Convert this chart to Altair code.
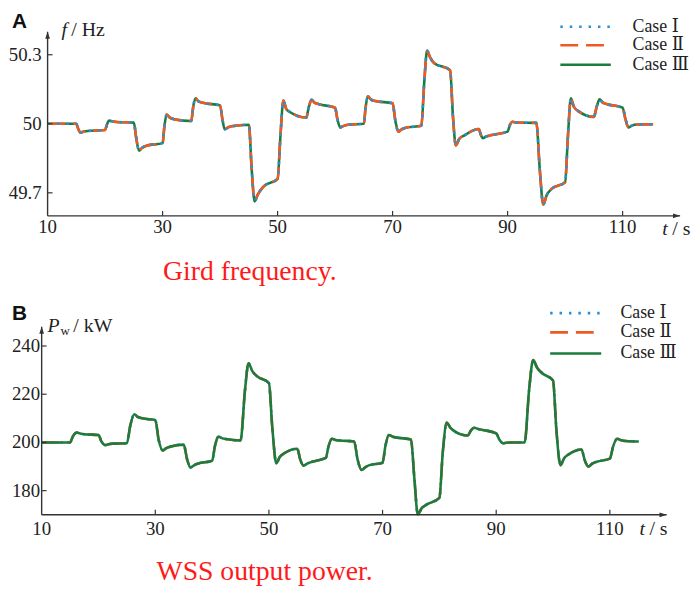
import altair as alt
import pandas as pd

# ---------------- data ----------------
# Panel A: grid frequency (Hz) vs time (s)
tA = [10.0, 15.0, 15.3, 15.7, 16.3, 17.0, 20.0, 20.3, 20.7, 21.2, 22.0, 25.0, 25.4, 25.9, 26.4, 27.2,
      30.0, 30.3, 30.7, 31.2, 32.0, 35.0, 35.3, 35.7, 36.2, 37.0, 40.0, 40.4, 40.8, 41.3, 42.0,
      45.0, 45.5, 46.0, 46.5, 47.5, 50.0, 50.5, 51.0, 51.5, 52.2, 55.0, 55.4, 55.9, 56.4, 57.2,
      60.0, 60.4, 60.9, 61.4, 62.2, 65.0, 65.3, 65.7, 66.2, 67.0, 70.0, 70.5, 71.0, 71.5, 72.3,
      75.0, 75.5, 76.0, 76.5, 77.2, 80.0, 80.5, 81.0, 81.6, 82.5, 85.0, 85.3, 85.7, 86.2, 87.0,
      90.0, 90.4, 90.9, 91.4, 95.0, 95.6, 96.2, 96.8, 97.7, 100.0, 100.5, 101.0, 101.5, 102.3,
      105.0, 105.5, 106.0, 106.5, 107.2, 110.0, 110.5, 111.0, 111.6, 112.4, 115.3]
fA = [50.000, 50.000, 49.980, 49.962, 49.966, 49.969, 49.973, 49.995, 50.014, 50.011, 50.008,
      50.005, 49.940, 49.883, 49.895, 49.905, 49.916, 49.985, 50.040, 50.028, 50.020, 50.012,
      50.070, 50.111, 50.098, 50.091, 50.080, 50.020, 49.976, 49.983, 49.989, 49.996, 49.800,
      49.663, 49.690, 49.726, 49.761, 49.950, 50.101, 50.065, 50.050, 50.027, 50.070, 50.104,
      50.092, 50.085, 50.070, 50.020, 49.984, 49.990, 49.996, 50.000, 50.070, 50.120, 50.106,
      50.099, 50.089, 50.010, 49.966, 49.975, 49.983, 49.991, 50.180, 50.317, 50.290, 50.264,
      50.233, 50.030, 49.906, 49.935, 49.950, 49.977, 49.955, 49.937, 49.944, 49.950, 49.966,
      49.995, 50.009, 50.005, 50.004, 49.800, 49.649, 49.690, 49.718, 49.746, 49.950, 50.111,
      50.075, 50.055, 50.030, 50.075, 50.106, 50.093, 50.086, 50.070, 50.020, 49.984, 49.992,
      49.997, 49.998]

# Panel B: WSS output power (kW) vs time (s)
tB = [10.0, 15.0, 15.5, 16.2, 16.8, 17.5, 20.0, 20.5, 21.2, 21.8, 22.5, 25.0, 25.6, 26.3, 26.9, 27.7,
      30.0, 30.6, 31.3, 31.9, 32.6, 35.0, 35.6, 36.2, 36.8, 37.5, 40.0, 40.5, 41.1, 41.7, 42.4,
      45.0, 45.8, 46.4, 47.1, 48.0, 50.0, 50.6, 51.3, 51.9, 52.7, 55.0, 55.5, 56.1, 56.8, 57.6,
      60.0, 60.5, 61.1, 61.7, 62.5, 65.0, 65.6, 66.3, 67.0, 67.7, 70.0, 70.5, 71.1, 71.8, 72.6,
      75.0, 75.6, 76.2, 76.9, 77.8, 80.0, 80.6, 81.3, 81.9, 82.7, 85.0, 85.5, 86.1, 86.8, 87.6,
      90.0, 90.6, 91.2, 91.8, 92.5, 95.0, 95.8, 96.5, 97.2, 98.1, 100.0, 100.6, 101.3, 102.0, 102.8,
      105.0, 105.6, 106.2, 106.9, 107.7, 110.0, 110.6, 111.3, 112.0, 112.8, 115.1]
pB = [200.0, 200.0, 202.5, 204.1, 203.7, 203.4, 203.1, 200.5, 198.9, 199.3, 199.5, 199.7, 207.0,
      211.7, 210.6, 210.0, 209.3, 201.0, 196.7, 197.6, 198.2, 199.1, 193.0, 189.6, 190.5, 191.2,
      192.4, 198.5, 202.4, 201.8, 201.4, 200.8, 222.0, 232.8, 229.5, 227.3, 224.6, 206.0, 191.3,
      194.0, 195.5, 197.4, 193.0, 190.4, 191.3, 192.0, 193.6, 198.5, 201.5, 201.0, 200.8, 200.4,
      193.0, 188.6, 189.8, 190.6, 191.6, 198.5, 203.1, 202.4, 202.0, 201.2, 185.0, 170.2, 172.8,
      174.3, 177.0, 196.0, 208.3, 206.2, 204.6, 202.9, 204.8, 206.1, 205.6, 205.2, 203.8, 201.0,
      199.7, 199.9, 200.0, 200.0, 222.0, 234.2, 231.0, 228.7, 225.7, 205.0, 190.6, 193.6, 195.1,
      197.1, 192.5, 190.0, 191.2, 192.0, 193.3, 198.5, 201.5, 200.9, 200.6, 200.4]

cases = ["Case \u2160", "Case \u2161", "Case \u2162"]
xA_ticks = [30, 50, 70, 90, 110]
x_labels = [10, 30, 50, 70, 90, 110]
yA_ticks = [49.7, 50.0, 50.3]
yA_labels = ["49.7", "50", "50.3"]
yB_ticks = [180, 200, 220, 240]
yB_labels = ["180", "200", "220", "240"]

# ---------------- styling ----------------
W, H = 683, 575
SERIF = "Liberation Serif"
LEGEND_FONT = '"Liberation Serif", "DejaVu Serif"'
AX = "#333333"
TXT = "#222222"
colors = ["#2b8fd6", "#ee5a24", "#1b7c3d"]
dashes = [[2.5, 7], [18, 8], None]
LW = 2.6


def sc(domain, rng):
    return alt.Scale(domain=domain, range=rng, nice=False, zero=False)


xA = sc([10, 120], [36, 675])
yA = sc([49.6, 50.4], [207, 21])
xB = sc([10, 120], [30, 661.4])
yB = sc([170, 248], [509, 319])

dfA = pd.DataFrame({"t": tA, "v": fA})
dfB = pd.DataFrame({"t": tB, "v": pB})

layers = []


def add_lines(df, xs, ys, order):
    for i in order:
        kw = dict(color=colors[i], strokeWidth=LW, interpolate="monotone")
        if dashes[i] is not None:
            kw["strokeDash"] = dashes[i]
        layers.append(
            alt.Chart(df).mark_line(**kw).encode(
                x=alt.X("t:Q", scale=xs, axis=None),
                y=alt.Y("v:Q", scale=ys, axis=None),
            )
        )


add_lines(dfA, xA, yA, [2, 1, 0])
add_lines(dfB, xB, yB, [0, 1, 2])


def add_axes(xs, ys, x0, x1, y0, y1, xticks, yticks, ylabels, ybase, xbase, ylab_x, xlab_y):
    # axis lines
    layers.append(alt.Chart(pd.DataFrame({"a": [x0], "b": [x1], "y": [y0]})).mark_rule(
        color=AX, strokeWidth=1.4).encode(
        x=alt.X("a:Q", scale=xs, axis=None), x2="b:Q", y=alt.Y("y:Q", scale=ys, axis=None)))
    layers.append(alt.Chart(pd.DataFrame({"x": [x0], "a": [y0], "b": [y1]})).mark_rule(
        color=AX, strokeWidth=1.4).encode(
        x=alt.X("x:Q", scale=xs, axis=None), y=alt.Y("a:Q", scale=ys, axis=None), y2="b:Q"))
    # arrow heads
    layers.append(alt.Chart(pd.DataFrame({"x": [x1], "y": [y0]})).mark_point(
        shape="M0,0L-2.4,-0.8L-2.4,0.8Z", filled=True, size=36, color=AX, opacity=1, strokeWidth=0).encode(
        x=alt.X("x:Q", scale=xs, axis=None), y=alt.Y("y:Q", scale=ys, axis=None)))
    layers.append(alt.Chart(pd.DataFrame({"x": [x0], "y": [y1]})).mark_point(
        shape="M0,0L-0.8,2.4L0.8,2.4Z", filled=True, size=36, color=AX, opacity=1, strokeWidth=0).encode(
        x=alt.X("x:Q", scale=xs, axis=None), y=alt.Y("y:Q", scale=ys, axis=None)))
    # inward ticks
    layers.append(alt.Chart(pd.DataFrame({"x": xticks})).mark_rule(color=AX, strokeWidth=1.2).encode(
        x=alt.X("x:Q", scale=xs, axis=None), y=alt.value(xbase), y2=alt.value(xbase - 5)))
    layers.append(alt.Chart(pd.DataFrame({"y": yticks})).mark_rule(color=AX, strokeWidth=1.2).encode(
        y=alt.Y("y:Q", scale=ys, axis=None), x=alt.value(ybase), x2=alt.value(ybase + 5)))
    # tick labels
    layers.append(alt.Chart(pd.DataFrame({"x": x_labels, "s": [str(v) for v in x_labels]})).mark_text(
        font=SERIF, fontSize=19, color=TXT, baseline="middle", align="center").encode(
        x=alt.X("x:Q", scale=xs, axis=None), y=alt.value(xlab_y), text="s:N"))
    layers.append(alt.Chart(pd.DataFrame({"y": yticks, "s": ylabels})).mark_text(
        font=SERIF, fontSize=19, color=TXT, baseline="middle", align="right").encode(
        y=alt.Y("y:Q", scale=ys, axis=None), x=alt.value(ylab_x), text="s:N"))


add_axes(xA, yA, 10, 120, 49.6, 50.4, xA_ticks, yA_ticks, yA_labels, 36, 207, 30, 218)
add_axes(xB, yB, 10, 120, 170, 248, xA_ticks, yB_ticks, yB_labels, 30, 509, 28.5, 523)


def txt(s, x, y, size=19, italic=False, bold=False, color=TXT, align="left",
        baseline="middle", font=SERIF):
    kw = dict(font=font, fontSize=size, color=color, align=align, baseline=baseline)
    if italic:
        kw["fontStyle"] = "italic"
    if bold:
        kw["fontWeight"] = "bold"
    return alt.Chart(pd.DataFrame({"s": [s]})).mark_text(**kw).encode(
        x=alt.value(x), y=alt.value(y), text="s:N")


# panel letters
layers.append(txt("A", 0, 0, size=21, bold=True, baseline="top", font="Liberation Sans", color="#111111"))
layers.append(txt("B", 0, 295, size=21, bold=True, baseline="top", font="Liberation Sans", color="#111111"))

# axis titles
layers.append(txt("f", 50, 19, size=20, italic=True))
layers.append(txt("/ Hz", 60, 19, size=20))
layers.append(txt("t", 657, 220, size=20, italic=True))
layers.append(txt("/ s", 667, 220, size=20))
layers.append(txt("P", 36, 318, size=20, italic=True))
layers.append(txt("w", 49, 323, size=13))
layers.append(txt("/ kW", 62, 318, size=20))
layers.append(txt("t", 634, 523, size=20, italic=True))
layers.append(txt("/ s", 644, 523, size=20))

# captions
layers.append(txt("Gird frequency.", 152.7, 272, size=28, color="#ff1a1a", baseline="alphabetic"))
layers.append(txt("WSS output power.", 146, 575, size=28, color="#ff1a1a", baseline="alphabetic"))


# legends
def add_legend(x0, x1, xt, ys):
    for i in range(3):
        kw = dict(color=colors[i], strokeWidth=2.6)
        if dashes[i] is not None:
            kw["strokeDash"] = dashes[i]
        layers.append(alt.Chart(pd.DataFrame({"s": [cases[i]]})).mark_rule(**kw).encode(
            x=alt.value(x0), x2=alt.value(x1), y=alt.value(ys[i])))
        layers.append(txt(cases[i], xt, ys[i], size=18, font=LEGEND_FONT))


add_legend(554, 605, 627, [16, 34.7, 54.3])
add_legend(543.7, 595.3, 614.7, [305.3, 324.7, 346])

chart = alt.layer(*layers).resolve_scale(x="independent", y="independent").properties(
    width=W, height=H, padding=0
).configure_view(stroke=None)

chart.save("out.html", embed_options={"renderer": "svg", "actions": False})
